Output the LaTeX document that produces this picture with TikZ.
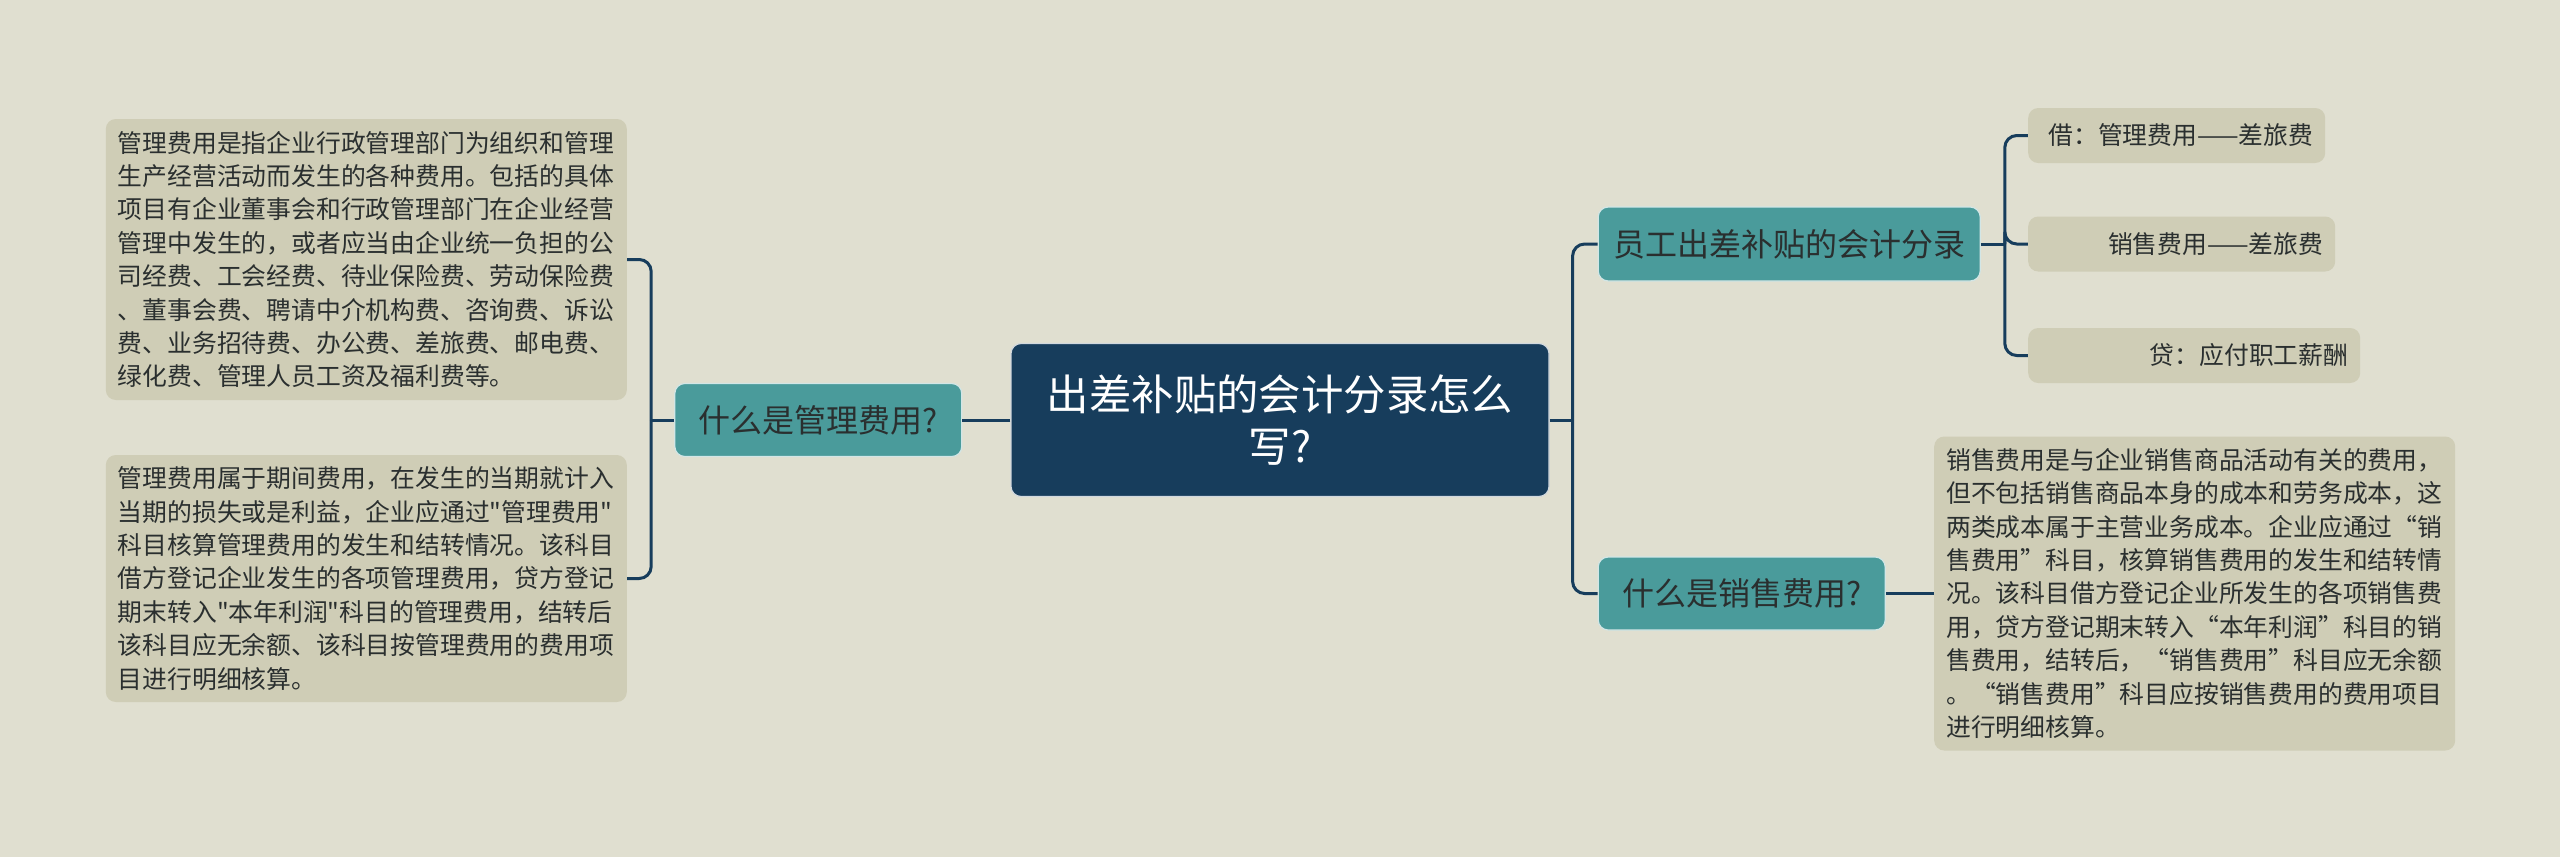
\documentclass[tikz,border=0pt]{standalone}
\usepackage{fontspec}
\setmainfont{Noto Sans CJK SC}[Ligatures=TeXOff]
\usetikzlibrary{positioning}
\definecolor{bgcol}{HTML}{E0DFD0}
\definecolor{leafcol}{HTML}{CFCDB6}
\definecolor{tealcol}{HTML}{4A9B9B}
\definecolor{navycol}{HTML}{173D5C}
\definecolor{inkcol}{HTML}{2A2F2F}
\tikzset{
    root/.style={rectangle,rounded corners=5pt,fill=navycol,draw=white!80!navycol,line width=0.6pt,text=white,
        font=\fontsize{21.2}{26}\selectfont,text width=240pt,inner xsep=14.5pt,align=center,minimum height=76.5pt},
    branch/.style={rectangle,rounded corners=5pt,fill=tealcol,draw=white!75!tealcol,line width=0.6pt,text=inkcol,
        font=\fontsize{16}{20}\selectfont,minimum height=36.5pt,minimum width=143.5pt},
    leaf/.style={rectangle,rounded corners=5pt,fill=leafcol,text=inkcol,font=\fontsize{12.4}{16.7}\selectfont,
        text width=248.5pt,inner xsep=6pt,inner ysep=5pt,align=left},
    entry/.style={rectangle,rounded corners=5pt,fill=leafcol,text=inkcol,font=\fontsize{12.4}{15}\selectfont,
        inner xsep=6pt,align=right,minimum height=27.5pt},
    link/.style={draw=navycol,line width=1.5pt,rounded corners=6pt}
}

\begin{document}
\begin{tikzpicture}[x=0.5pt,y=-0.5pt]

    \fill[bgcol] (0,0) rectangle (2560,857);

    \node[root] (root) at (1280,420) {出差补贴的会计分录怎么\\写?};

    % left side
    \node[branch] (mgmt) [left=24pt of root] {什么是管理费用?};
    \node[leaf,minimum height=140.5pt] (mgmt def) [left=23.5pt of mgmt,yshift=80.25pt]
        {管理费用是指企业行政管理部门为组织和管理\\
         生产经营活动而发生的各种费用。包括的具体\\
         项目有企业董事会和行政管理部门在企业经营\\
         管理中发生的，或者应当由企业统一负担的公\\
         司经费、工会经费、待业保险费、劳动保险费\\
         、董事会费、聘请中介机构费、咨询费、诉讼\\
         费、业务招待费、办公费、差旅费、邮电费、\\
         绿化费、管理人员工资及福利费等。};
    \node[leaf,minimum height=123.5pt] (mgmt acct) [left=23.5pt of mgmt,yshift=-79.25pt]
        {管理费用属于期间费用，在发生的当期就计入\\
         当期的损失或是利益，企业应通过"管理费用"\\
         科目核算管理费用的发生和结转情况。该科目\\
         借方登记企业发生的各项管理费用，贷方登记\\
         期末转入"本年利润"科目的管理费用，结转后\\
         该科目应无余额、该科目按管理费用的费用项\\
         目进行明细核算。};

    % right side
    \node[branch,minimum width=191pt,minimum height=37pt] (entries) [right=24pt of root,yshift=88pt] {员工出差补贴的会计分录};
    \node[entry,text width=136.5pt] (debit 1) [right=23.5pt of entries,yshift=54.25pt] {借：管理费用——差旅费};
    \node[entry,text width=141.5pt] (debit 2) [right=23.5pt of entries] {销售费用——差旅费};
    \node[entry,text width=154pt] (credit) [right=23.5pt of entries,yshift=-55.75pt] {贷：应付职工薪酬};

    \node[branch] (sales) [right=24pt of root,yshift=-86.75pt] {什么是销售费用?};
    \node[leaf,minimum height=157pt] (sales def) [right=24pt of sales]
        {销售费用是与企业销售商品活动有关的费用，\\
         但不包括销售商品本身的成本和劳务成本，这\\
         两类成本属于主营业务成本。企业应通过“销\\
         售费用”科目，核算销售费用的发生和结转情\\
         况。该科目借方登记企业所发生的各项销售费\\
         用，贷方登记期末转入“本年利润”科目的销\\
         售费用，结转后，“销售费用”科目应无余额\\
         。“销售费用”科目应按销售费用的费用项目\\
         进行明细核算。};

    % connectors
    \coordinate (left fork) at ([xshift=-11.5pt]mgmt.west);
    \coordinate (right fork) at ([xshift=11.5pt]root.east);
    \coordinate (entry fork) at ([xshift=12pt]entries.east);

    \draw[link] (root.west) -- (mgmt.east);
    \draw[link] (mgmt.west) -- (left fork);
    \draw[link] (left fork) |- (mgmt def.east);
    \draw[link] (left fork) |- (mgmt acct.east);

    \draw[link] (root.east) -- (right fork);
    \draw[link] (right fork) |- (entries.west);
    \draw[link] (right fork) |- (sales.west);

    \draw[link] (entries.east) -- (entry fork);
    \draw[link] (entry fork) |- (debit 1.west);
    \draw[link] (entry fork) |- (debit 2.west);
    \draw[link] (entry fork) |- (credit.west);

    \draw[link] (sales.east) -- (sales def.west);

\end{tikzpicture}
\end{document}
